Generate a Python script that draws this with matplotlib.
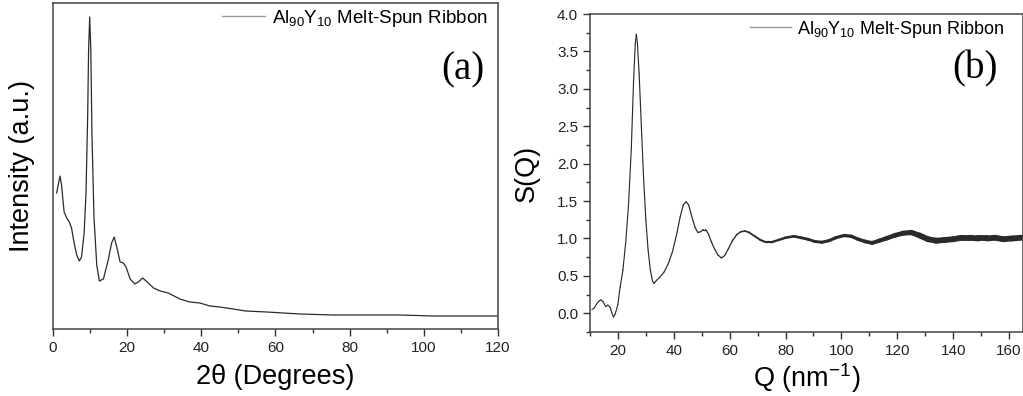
import numpy as np
import matplotlib.pyplot as plt
from matplotlib.collections import LineCollection
from matplotlib.lines import Line2D
from matplotlib.ticker import MultipleLocator, FormatStrFormatter

plt.rcParams.update({
    'font.family': ['Liberation Sans', 'DejaVu Sans'],
    'mathtext.fontset': 'custom',
    'mathtext.rm': 'Liberation Sans',
    'mathtext.it': 'Liberation Sans:italic',
    'mathtext.bf': 'Liberation Sans:bold',
    'axes.linewidth': 1.1,
    'axes.edgecolor': '#444444',
    'xtick.direction': 'out',
    'ytick.direction': 'out',
    'xtick.color': '#333333',
    'ytick.color': '#333333',
    'xtick.labelcolor': '#222222',
    'ytick.labelcolor': '#222222',
    'xtick.major.size': 5,
    'ytick.major.size': 5,
    'xtick.minor.size': 3,
    'ytick.minor.size': 3,
    'xtick.major.width': 1.0,
    'ytick.major.width': 1.0,
    'xtick.minor.width': 1.0,
    'ytick.minor.width': 1.0,
    'xtick.labelsize': 11,
    'ytick.labelsize': 11,
})

LABEL = r'Al$_{90}$Y$_{10}$ Melt-Spun Ribbon'
LINE_COL = '#2a2a2a'

# (a) X-ray diffraction pattern
two_theta = [1.0, 1.5, 1.9, 2.3, 3.0, 3.7, 4.4, 5.0, 5.7, 6.4, 7.1, 7.7, 8.4,
             8.9, 9.35, 9.6, 9.9, 10.2, 10.5, 11.05, 11.8, 12.5, 13.6, 14.9,
             15.8, 16.5, 17.2, 18.1, 19.0, 19.7, 20.8, 22.1, 23.0, 24.2, 25.4,
             27.1, 28.9, 31.1, 34.2, 36.9, 39.6, 42.3, 45.0, 48.6, 51.9, 57.6,
             66.6, 75.6, 84.6, 93.5, 102.5, 111.0, 120.0]
intensity = [136, 146, 153, 144, 117, 111, 107, 101, 86, 74, 68, 72, 96,
             136, 212, 279, 312, 279, 196, 112, 64, 48, 50, 69,
             86, 92, 82, 67, 66, 62, 50, 45, 47, 51, 47,
             41, 38, 36, 30, 27, 26, 23, 22, 20, 18, 17,
             15, 14, 14, 14, 13, 13, 13]

# (b) structure factor
q_vals = [10.7, 11.5, 12.3, 13.1, 13.9, 14.8, 15.6, 16.4, 17.2, 17.8, 18.4,
          19.0, 19.5, 20.0, 20.8, 21.8, 22.8, 23.8, 24.8, 25.6, 26.2, 26.6,
          27.0, 27.6, 28.4, 29.2, 30.0, 30.8, 31.6, 32.4, 33.0, 33.8, 35.0,
          36.5, 38.0, 39.5, 41.0, 42.3, 43.4, 44.4, 45.3, 46.4, 47.6, 48.6,
          49.6, 50.6, 51.4, 52.4, 53.4, 54.6, 55.8, 57.0, 58.2, 59.5, 61.0,
          62.5, 64.0, 65.5, 67.0, 69.0, 71.0, 73.0, 75.0, 77.5, 80.0, 83.0,
          85.5, 88.0, 90.5, 93.0, 95.5, 98.0, 101.0, 103.5, 106.0, 108.5,
          111.0, 113.5, 116.0, 119.0, 122.0, 125.0, 128.0, 131.0, 134.0,
          137.0, 140.0, 143.0, 146.0, 149.0, 152.0, 155.0, 158.0, 161.0, 164.5]
s_vals = [0.05, 0.07, 0.12, 0.16, 0.18, 0.15, 0.09, 0.11, 0.08, 0.01, -0.05,
          -0.01, 0.05, 0.12, 0.35, 0.58, 0.95, 1.45, 2.20, 3.10, 3.60, 3.73,
          3.60, 3.20, 2.50, 1.80, 1.25, 0.85, 0.58, 0.43, 0.40, 0.44, 0.48,
          0.55, 0.66, 0.82, 1.05, 1.29, 1.45, 1.49, 1.45, 1.30, 1.15, 1.08,
          1.09, 1.12, 1.12, 1.06, 0.96, 0.86, 0.78, 0.74, 0.77, 0.86, 0.97,
          1.05, 1.09, 1.10, 1.08, 1.03, 0.98, 0.95, 0.95, 0.98, 1.01, 1.03,
          1.01, 0.99, 0.96, 0.95, 0.97, 1.01, 1.04, 1.03, 0.99, 0.96,
          0.94, 0.97, 1.00, 1.04, 1.07, 1.08, 1.04, 0.99, 0.97,
          0.98, 0.99, 1.01, 1.01, 1.00, 1.00, 1.01, 0.99, 1.00, 1.01]

# the measured curve gets noisier at high Q: widen the trace there
noise_q = [10, 60, 70, 85, 105, 120, 130, 166]
noise_lw = [0.8, 0.9, 1.4, 2.0, 2.4, 3.4, 4.2, 4.2]

fig = plt.figure(figsize=(10.23, 3.96), dpi=100)
ax_a = fig.add_axes([0.0518, 0.1692, 0.4350, 0.8232])
ax_b = fig.add_axes([0.5767, 0.1616, 0.4233, 0.8030])

handle = [Line2D([], [], color='#9a9a9a', lw=1.0)]

# --- (a) intensity vs 2theta
ax_a.plot(two_theta, intensity, color=LINE_COL, lw=0.9)
ax_a.set_xlim(0, 120)
ax_a.set_ylim(0, 326)
ax_a.set_yticks([])
ax_a.xaxis.set_major_locator(MultipleLocator(20))
ax_a.xaxis.set_minor_locator(MultipleLocator(10))
ax_a.set_xlabel('2θ (Degrees)', fontsize=19.5)
ax_a.set_ylabel('Intensity (a.u.)', fontsize=19.5)
ax_a.xaxis.set_label_coords(0.5, -0.108)
ax_a.yaxis.set_label_coords(-0.04, 0.5)
ax_a.legend(handle, [LABEL], loc='upper right', bbox_to_anchor=(0.977, 0.985),
            frameon=False, fontsize=13.5, handlelength=2.3, handletextpad=0.35,
            borderpad=0, borderaxespad=0)
ax_a.text(0.921, 0.794, '(a)', transform=ax_a.transAxes, ha='center',
          va='center', fontsize=28, family='Liberation Serif')

# --- (b) S(Q)
pts = np.column_stack([q_vals, s_vals])
segs = np.stack([pts[:-1], pts[1:]], axis=1)
widths = np.interp(segs[:, :, 0].mean(axis=1), noise_q, noise_lw)
ax_b.add_collection(LineCollection(segs, linewidths=widths, colors=LINE_COL,
                                   capstyle='round', joinstyle='round'))
ax_b.set_xlim(10, 165)
ax_b.set_ylim(-0.25, 4.0)
ax_b.xaxis.set_major_locator(MultipleLocator(20))
ax_b.xaxis.set_minor_locator(MultipleLocator(10))
ax_b.yaxis.set_major_locator(MultipleLocator(0.5))
ax_b.yaxis.set_minor_locator(MultipleLocator(0.25))
ax_b.yaxis.set_major_formatter(FormatStrFormatter('%.1f'))
ax_b.set_xlabel(r'Q (nm$^{-1}$)', fontsize=19.5)
ax_b.set_ylabel('S(Q)', fontsize=19.5)
ax_b.xaxis.set_label_coords(0.5, -0.092)
ax_b.yaxis.set_label_coords(-0.116, 0.5)
ax_b.legend(handle, [LABEL], loc='upper right', bbox_to_anchor=(0.958, 0.985),
            frameon=False, fontsize=13, handlelength=2.3, handletextpad=0.35,
            borderpad=0, borderaxespad=0)
ax_b.text(0.889, 0.827, '(b)', transform=ax_b.transAxes, ha='center',
          va='center', fontsize=28, family='Liberation Serif')

fig.savefig('out.png', dpi=100)
